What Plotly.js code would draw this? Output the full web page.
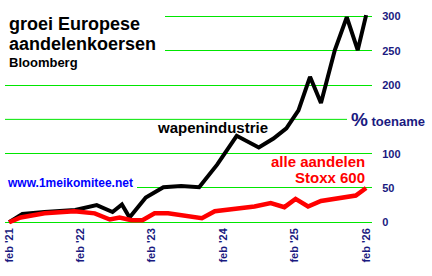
<!DOCTYPE html>
<html>
<head>
<meta charset="utf-8">
<script src="https://cdn.plot.ly/plotly-3.0.1.min.js"></script>
<style>html,body{margin:0;padding:0;background:#fff;}#chart{width:432px;height:276px;}</style>
</head>
<body>
<div id="chart"></div>
<script>
// wapenindustrie (defence stocks), % increase since feb '21
const defenceDates = ['2021-02-01','2021-04-10','2021-08-01','2022-01-05','2022-04-25','2022-07-15','2022-09-01','2022-10-10','2023-01-01','2023-04-01','2023-07-01','2023-10-01','2024-01-01','2024-04-10','2024-08-01','2024-10-15','2024-12-20','2025-02-20','2025-04-20','2025-06-15','2025-08-25','2025-10-25','2025-12-20','2026-02-01'];
const defenceValues = [0,12,15,18,25,15,26,7,36,51,53,51,84,126,109,122,137,163,212,174,251,299,251,302];

// alle aandelen Stoxx 600, % increase since feb '21
const stoxxDates = ['2021-02-01','2021-04-01','2021-08-01','2022-01-01','2022-04-15','2022-07-01','2022-08-20','2022-10-20','2022-12-15','2023-02-15','2023-04-25','2023-10-15','2023-12-20','2024-04-01','2024-07-10','2024-10-01','2024-12-10','2025-02-05','2025-04-10','2025-06-15','2025-08-30','2025-12-10','2026-02-01'];
const stoxxValues = [0,7,13,16,13,4,7,3,3,13,13,6,16,20,23,28,22,34,23,31,35,39,50];

const xTickVals = ['2021-02-01','2022-02-01','2023-02-01','2024-02-01','2025-02-01','2026-02-01'];
const xTickText = ["feb '21","feb '22","feb '23","feb '24","feb '25","feb '26"];
const yTickVals = [0,50,100,200,250,300];
const yTickText = ['0','50','100','200','250','300'];

const FONT = 'Liberation Sans, Arial, sans-serif';
const NAVY = '#1a1a80';
const GRID = '#00e600';

// pixel -> paper helpers for the fixed 432x276 canvas
const L = 5, R = 60, T = 11, B = 51.3;
const PW = 432 - L - R, PH = 276 - T - B;
const px = x => (x - L) / PW;
const py = y => (276 - B - y) / PH;

const traces = [
  {x: defenceDates, y: defenceValues, type: 'scatter', mode: 'lines',
   line: {color: '#000000', width: 4}, hoverinfo: 'skip'},
  {x: stoxxDates, y: stoxxValues, type: 'scatter', mode: 'lines',
   line: {color: '#ff0000', width: 4.5}, hoverinfo: 'skip'}
];

const layout = {
  width: 432, height: 276,
  margin: {l: L, r: R, t: T, b: B, pad: 0},
  paper_bgcolor: '#ffffff', plot_bgcolor: '#ffffff',
  showlegend: false,
  font: {family: FONT},
  xaxis: {
    type: 'date', range: ['2021-01-11', '2026-03-03'],
    tickvals: xTickVals, ticktext: xTickText, tickangle: -90,
    showgrid: false, zeroline: false, showline: false, ticks: '',
    tickfont: {family: FONT, size: 11, color: NAVY, weight: 'bold'}
  },
  yaxis: {
    range: [-4, 308], side: 'right',
    tickvals: yTickVals, ticktext: yTickText,
    showgrid: true, gridcolor: GRID, gridwidth: 1,
    zeroline: false, showline: false,
    ticks: 'outside', ticklen: 7, tickcolor: 'rgba(0,0,0,0)',
    tickfont: {family: FONT, size: 11, color: NAVY, weight: 'bold'}
  },
  shapes: [
    {type: 'line', xref: 'paper', yref: 'y', x0: 0, x1: 1, y0: 150, y1: 150, line: {color: GRID, width: 1}, layer: 'below'},
    {type: 'rect', xref: 'paper', yref: 'paper', x0: px(0), x1: px(165), y0: py(57), y1: py(8), fillcolor: '#ffffff', line: {width: 0}, layer: 'above'},
    {type: 'rect', xref: 'paper', yref: 'paper', x0: px(0), x1: px(137), y0: py(191), y1: py(176), fillcolor: '#ffffff', line: {width: 0}, layer: 'above'},
    {type: 'rect', xref: 'paper', yref: 'paper', x0: px(347), x1: px(432), y0: py(129), y1: py(110), fillcolor: '#ffffff', line: {width: 0}, layer: 'above'}
  ],
  annotations: [
    {xref: 'paper', yref: 'paper', x: px(7), y: py(24), xanchor: 'left', yanchor: 'middle', showarrow: false,
     text: 'groei Europese', font: {family: FONT, size: 18, color: '#000000', weight: 'bold'}},
    {xref: 'paper', yref: 'paper', x: px(7), y: py(43.5), xanchor: 'left', yanchor: 'middle', showarrow: false,
     text: 'aandelenkoersen', font: {family: FONT, size: 18, color: '#000000', weight: 'bold'}},
    {xref: 'paper', yref: 'paper', x: px(7), y: py(62.5), xanchor: 'left', yanchor: 'middle', showarrow: false,
     text: 'Bloomberg', font: {family: FONT, size: 13, color: '#000000', weight: 'bold'}},
    {xref: 'paper', yref: 'paper', x: px(212), y: py(127.5), xanchor: 'center', yanchor: 'middle', showarrow: false,
     text: 'wapenindustrie', font: {family: FONT, size: 15, color: '#000000', weight: 'bold'}},
    {xref: 'paper', yref: 'paper', x: px(367), y: py(161), xanchor: 'right', yanchor: 'middle', showarrow: false,
     text: 'alle aandelen', font: {family: FONT, size: 15, color: '#ff0000', weight: 'bold'}},
    {xref: 'paper', yref: 'paper', x: px(367), y: py(177), xanchor: 'right', yanchor: 'middle', showarrow: false,
     text: 'Stoxx 600', font: {family: FONT, size: 15, color: '#ff0000', weight: 'bold'}},
    {xref: 'paper', yref: 'paper', x: px(5), y: py(182.5), xanchor: 'left', yanchor: 'middle', showarrow: false,
     text: 'www.1meikomitee.net', font: {family: FONT, size: 12, color: '#0000ff', weight: 'bold'}},
    {xref: 'paper', yref: 'paper', x: px(349), y: py(119.5), xanchor: 'left', yanchor: 'middle', showarrow: false,
     text: '<span style="font-size:19px">%</span> toename', font: {family: FONT, size: 13, color: NAVY, weight: 'bold'}}
  ]
};

Plotly.newPlot('chart', traces, layout, {staticPlot: true, displayModeBar: false});
</script>
</body>
</html>
